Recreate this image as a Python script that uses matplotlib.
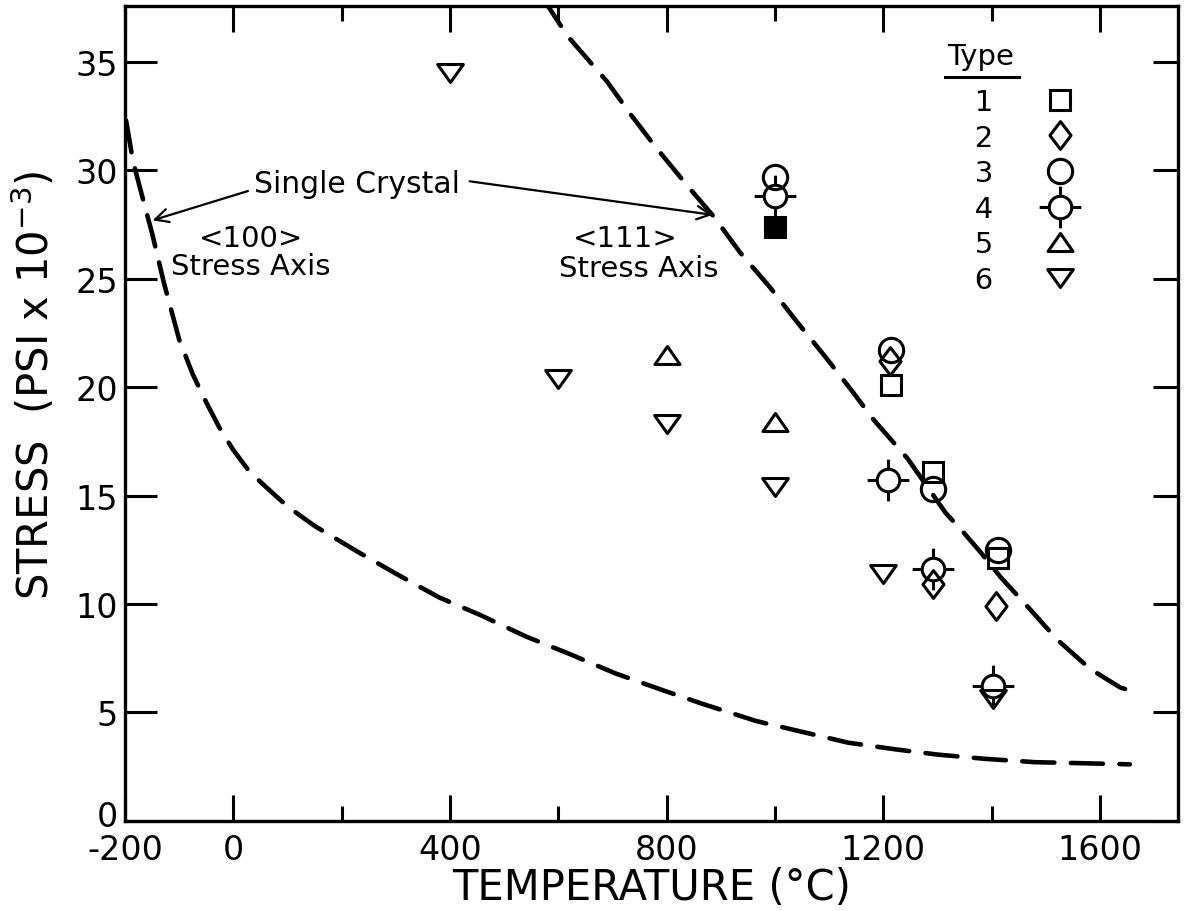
"""Stress vs temperature for six specimen types, with the two single-crystal
reference curves (<100> and <111> stress axis) drawn dashed.

Writes out.png
"""

import matplotlib
matplotlib.use("Agg")
import matplotlib.pyplot as plt
from matplotlib.lines import Line2D
from matplotlib.path import Path
from matplotlib.transforms import ScaledTranslation

# values: temperature (C), stress (psi x 1e-3)
type1_temp = [1000, 1215, 1292, 1412]
type1_stress = [27.4, 20.1, 16.1, 12.1]
type1_filled = [True, False, False, False]

type2_temp = [1213, 1292, 1408]
type2_stress = [21.2, 10.9, 9.9]

type3_temp = [1000, 1215, 1292, 1412]
type3_stress = [29.7, 21.7, 15.3, 12.5]

type4_temp = [1000, 1208, 1292, 1403]
type4_stress = [28.8, 15.7, 11.6, 6.2]

type5_temp = [800, 1000]
type5_stress = [21.5, 18.4]

type6_temp = [400, 600, 800, 1000, 1200, 1403]
type6_stress = [34.5, 20.4, 18.3, 15.4, 11.4, 5.6]

# single crystal, <100> stress axis
c100_temp = [-198, -185, -165, -150, -128, -100, -75, -50, -25, 0, 30, 60,
             100, 150, 230, 300, 380, 455, 540, 620, 705, 795, 865, 965,
             1050, 1135, 1220, 1300, 1390, 1480, 1570, 1655]
c100_stress = [32.3, 30.4, 28.5, 27.1, 24.8, 22.2, 20.6, 19.3, 18.1, 17.1,
               16.1, 15.4, 14.5, 13.6, 12.4, 11.4, 10.3, 9.5, 8.5, 7.7, 6.8,
               6.0, 5.4, 4.6, 4.1, 3.6, 3.3, 3.05, 2.85, 2.7, 2.65, 2.6]

# single crystal, <111> stress axis
c111_temp = [570, 617, 690, 733, 779, 838, 886, 936, 991, 1041, 1093, 1143,
             1182, 1245, 1315, 1348, 1379, 1416, 1471, 1521, 1582, 1637, 1656]
c111_stress = [38.0, 36.2, 34.1, 32.6, 31.1, 29.3, 27.9, 26.2, 24.6, 23.0,
               21.4, 19.8, 18.5, 16.7, 14.2, 13.3, 12.4, 11.25, 9.75, 8.35,
               7.0, 6.15, 6.0]

type_labels = ["1", "2", "3", "4", "5", "6"]
xtick_vals = [-200, 0, 400, 800, 1200, 1600]
xtick_text = ["-200", "0", "400", "800", "1200", "1600"]
xminor_vals = [200, 600, 1000, 1400]
ytick_vals = [0, 5, 10, 15, 20, 25, 30, 35]


def crosshair_marker():
    # circle with four short ticks sticking out of it
    parts = [Path.unit_circle()]
    for dx, dy in [(1, 0), (-1, 0), (0, 1), (0, -1)]:
        parts.append(Path([(dx, dy), (1.85 * dx, 1.85 * dy)],
                          [Path.MOVETO, Path.LINETO]))
    return Path.make_compound_path(*parts)


DIAMOND = Path([(0, 1), (0.76, 0), (0, -1), (-0.76, 0), (0, 1)], closed=True)
TRI_UP = Path([(-1, -0.72), (1, -0.72), (0, 0.72), (-1, -0.72)], closed=True)
TRI_DOWN = Path([(-1, 0.7), (1, 0.7), (0, -0.7), (-1, 0.7)], closed=True)

EW = 2.2
STYLES = {
    "1": dict(marker="s", markersize=14.5),
    "2": dict(marker=DIAMOND, markersize=20),
    "3": dict(marker="o", markersize=17.5),
    "4": dict(marker=crosshair_marker(), markersize=30),
    "5": dict(marker=TRI_UP, markersize=18),
    "6": dict(marker=TRI_DOWN, markersize=18.5),
}


def open_pts(ax, xs, ys, key):
    ax.plot(xs, ys, linestyle="none", color="black", markerfacecolor="none",
            markeredgecolor="black", markeredgewidth=EW, **STYLES[key])


def main():
    plt.rcParams["font.family"] = ["DejaVu Sans"]
    fig = plt.figure(figsize=(11.84, 9.12), dpi=100)
    ax = fig.add_axes([125 / 1184, 1 - 821.7 / 912, 1053 / 1184, 815 / 912])

    dash = (0, (7, 3.6))
    ax.plot(c100_temp, c100_stress, color="black", lw=3.3, linestyle=dash,
            dash_capstyle="round")
    ax.plot(c111_temp, c111_stress, color="black", lw=3.3, linestyle=dash,
            dash_capstyle="round")

    t1_open = [i for i, f in enumerate(type1_filled) if not f]
    t1_full = [i for i, f in enumerate(type1_filled) if f]
    open_pts(ax, [type1_temp[i] for i in t1_open],
             [type1_stress[i] for i in t1_open], "1")
    ax.plot([type1_temp[i] for i in t1_full],
            [type1_stress[i] for i in t1_full], linestyle="none",
            color="black", markeredgewidth=EW, **STYLES["1"])
    open_pts(ax, type2_temp, type2_stress, "2")
    open_pts(ax, type3_temp, type3_stress, "3")
    open_pts(ax, type4_temp, type4_stress, "4")
    open_pts(ax, type5_temp, type5_stress, "5")
    open_pts(ax, type6_temp, type6_stress, "6")

    # annotations
    ax.text(38, 29.4, "Single Crystal", ha="left", va="center", fontsize=21.5)
    arrow = dict(arrowstyle="->", lw=1.6, color="black", shrinkA=0,
                 shrinkB=0, mutation_scale=24)
    ax.annotate("", xy=(-149, 27.7), xytext=(27, 29.05), arrowprops=arrow)
    ax.annotate("", xy=(885, 27.95), xytext=(436, 29.5), arrowprops=arrow)
    ax.text(32, 26.9, "<100>", ha="center", va="center", fontsize=21)
    ax.text(32, 25.6, "Stress Axis", ha="center", va="center", fontsize=21)
    ax.text(724, 26.9, "<111>", ha="center", va="center", fontsize=21)
    ax.text(748, 25.5, "Stress Axis", ha="center", va="center", fontsize=21)

    # legend: number on the left, marker on the right
    handles = []
    for key in type_labels:
        handles.append(Line2D([], [], linestyle="none", color="black",
                              markerfacecolor="none", markeredgecolor="black",
                              markeredgewidth=EW, **STYLES[key]))
    leg = ax.legend(handles, ["   " + k for k in type_labels], title="Type",
                    loc="upper left", bbox_to_anchor=(0.7806, 0.9555),
                    frameon=False, markerfirst=False, numpoints=1,
                    handlelength=2.0, handletextpad=1.28, labelspacing=0.26,
                    fontsize=21, title_fontsize=21, alignment="left",
                    borderpad=0, borderaxespad=0)
    leg._legend_box.sep = 13

    ax.set_xlim(-200, 1744)
    ax.set_ylim(0, 37.6)
    ax.set_xticks(xtick_vals)
    ax.set_xticklabels(xtick_text)
    ax.set_xticks(xminor_vals, minor=True)
    ax.set_yticks(ytick_vals)
    ax.tick_params(axis="x", which="major", direction="in", length=19,
                   width=2.2, top=True, labelsize=24, pad=9)
    ax.tick_params(axis="x", which="minor", direction="in", length=11,
                   width=2.2, top=True)
    ax.tick_params(axis="y", which="major", direction="in", length=23,
                   width=2.2, right=True, labelsize=24, pad=5)
    for t in ax.yaxis.get_major_ticks():
        t.tick2line.set_markersize(18)
    for s in ax.spines.values():
        s.set_linewidth(2.4)

    # lift the "0" on the stress axis a little so it clears "-200"
    zero = ax.yaxis.get_major_ticks()[0].label1
    zero.set_transform(zero.get_transform()
                       + ScaledTranslation(0, 0.08, fig.dpi_scale_trans))

    ax.set_xlabel("TEMPERATURE (°C)", fontsize=30, labelpad=0)
    ax.set_ylabel("STRESS  (PSI x 10$^{-3}$)", fontsize=30)
    ax.yaxis.set_label_coords(-0.064, 0.536)

    # underline the legend title
    fig.canvas.draw()
    bb = leg.get_title().get_window_extent()
    W, H = fig.bbox.width, fig.bbox.height
    y = bb.y0 - 7
    fig.add_artist(Line2D([(bb.x0 - 2) / W, (bb.x1 + 5) / W], [y / H, y / H],
                          transform=fig.transFigure, lw=2.2, color="black"))

    fig.savefig("out.png", dpi=100)


if __name__ == "__main__":
    main()
